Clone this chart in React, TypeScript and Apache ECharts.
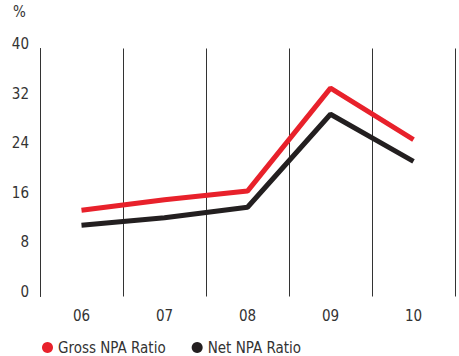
import React, { useEffect, useRef } from "react";
import * as echarts from "echarts";

const categories = ["06", "07", "08", "09", "10"];
const grossNpa = [13.9, 15.6, 17.0, 33.6, 25.3];
const netNpa = [11.5, 12.7, 14.4, 29.4, 21.8];
const yTicks = { min: 0, max: 40, interval: 8 };

const FONT = "'DejaVu Sans Condensed', 'Roboto', sans-serif";

export default function App() {
  const ref = useRef<HTMLDivElement>(null);
  useEffect(() => {
    if (!ref.current) return;
    const chart = echarts.init(ref.current, undefined, { renderer: "svg" });
    chart.setOption({
      animation: false,
      backgroundColor: "#ffffff",
      textStyle: { fontFamily: FONT },
      graphic: [
        {
          type: "text",
          left: 13,
          top: 4,
          style: { text: "%", fontSize: 15, fill: "#333333", fontFamily: FONT },
        },
      ],
      legend: {
        left: 37,
        top: 335,
        itemGap: 26,
        itemWidth: 11,
        itemHeight: 11,
        icon: "circle",
        textStyle: { fontSize: 15, color: "#333333", fontFamily: FONT },
        data: [
          { name: "Gross NPA Ratio", itemStyle: { color: "#e8212b" } },
          { name: "Net NPA Ratio", itemStyle: { color: "#231f20" } },
        ],
      },
      grid: { left: 40, right: 4, top: 48.5, bottom: 59.5 },
      xAxis: {
        type: "category",
        data: categories,
        boundaryGap: true,
        axisLine: { show: false },
        axisTick: { show: false },
        axisLabel: { fontSize: 15, color: "#333333", margin: 12, fontFamily: FONT },
        splitLine: { show: true, lineStyle: { color: "#333333", width: 1 } },
      },
      yAxis: {
        type: "value",
        min: yTicks.min,
        max: yTicks.max,
        interval: yTicks.interval,
        axisLine: { show: true, lineStyle: { color: "#333333", width: 1 } },
        axisTick: { show: false },
        splitLine: { show: false },
        axisLabel: {
          fontSize: 15,
          color: "#333333",
          margin: 11,
          verticalAlign: "bottom",
          lineHeight: 9,
          fontFamily: FONT,
        },
      },
      series: [
        {
          name: "Gross NPA Ratio",
          type: "line",
          data: grossNpa,
          symbol: "none",
          lineStyle: { color: "#e8212b", width: 5 },
          itemStyle: { color: "#e8212b" },
        },
        {
          name: "Net NPA Ratio",
          type: "line",
          data: netNpa,
          symbol: "none",
          lineStyle: { color: "#231f20", width: 5 },
          itemStyle: { color: "#231f20" },
        },
      ],
    });
    return () => chart.dispose();
  }, []);
  return <div ref={ref} style={{ width: 459, height: 356, position: "absolute", left: 0, top: 0 }} />;
}
